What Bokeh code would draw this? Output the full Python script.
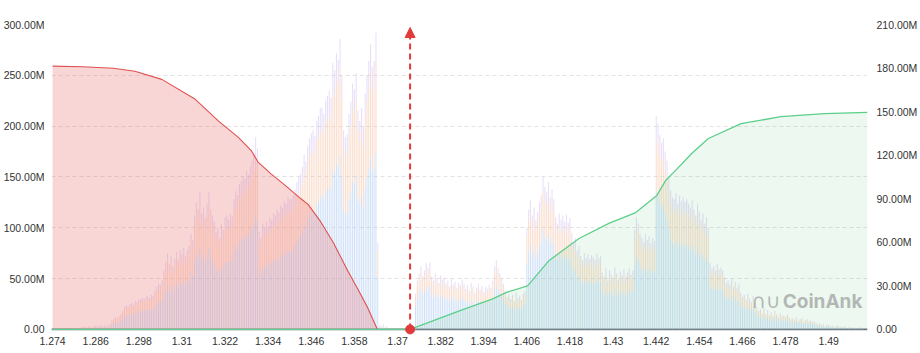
from bokeh.plotting import figure
from bokeh.models import (Range1d, LinearAxis, FixedTicker, CustomJSTickFormatter,
                          Span, Arrow, NormalHead, Label, ColumnDataSource)
from bokeh.embed import file_html
from bokeh.resources import INLINE

# ---------------- data ----------------
price_start = 1.274
price_step = 0.0005
current_price = 1.3735

x_tick_labels = ["1.274", "1.286", "1.298", "1.31", "1.322", "1.334", "1.346", "1.358",
                 "1.37", "1.382", "1.394", "1.406", "1.418", "1.43", "1.442", "1.454",
                 "1.466", "1.478", "1.49"]
left_ticks = [0, 50, 100, 150, 200, 250, 300]
right_ticks = [0, 30, 60, 90, 120, 150, 180, 210]

# liquidation intensity per price level (M), three stacked exchange groups
blue = [
    0.3, 0.2, 0.4, 0.6, 0.3, 0.4, 0.6, 0.3, 0.4, 0.6, 0.4, 0.6, 0.6, 0.4, 0.7, 0.7,
    1.2, 1.2, 1.8, 1.2, 1.8, 1.8, 1.2, 1.8, 2.4, 1.8, 1.8, 2.4, 1.8, 2.4, 1.8, 2.4, 3,
    5, 6, 7, 7, 8, 9,
    11, 13, 14, 13, 15, 16, 14,
    17, 16, 18, 17, 19, 18, 19, 20, 19, 20, 20,
    23, 25, 27, 26, 29,
    35, 39, 44, 38, 43, 37,
    42, 45, 41, 47, 44, 48, 43, 47, 49,
    56, 53,
    67, 75, 71, 80,
    68, 72, 66, 74, 80, 71, 67,
    64, 58, 60, 54, 62, 59,
    66, 67, 65, 68, 67,
    77, 82, 79, 86,
    88, 90, 89, 94, 91, 96, 100,
    104, 113, 107,
    58, 54, 62,
    60, 64, 61, 66, 65, 68, 67, 71, 69, 73, 72, 76, 74, 78, 77,
    77, 79, 83, 87, 90,
    92, 96, 103, 99, 108, 113, 116,
    118, 114, 123, 126, 131,
    131, 127, 135, 138, 141, 137,
    157, 153, 163, 159, 172,
    150,
    118, 113, 115,
    127, 134, 145, 142, 151,
    129, 123, 131, 120,
    139, 150, 158, 169, 155, 158, 175,
    51,
    2.4, 1.8, 3, 1.2, 1.8,
    0, 0, 0, 0, 0, 0, 0, 0, 0, 0, 0, 0, 0, 0, 0,
    23,
    31, 36, 40, 34, 38, 42,
    39, 43,
    34, 31, 36, 33, 30, 34, 32, 33,
    29, 31, 27, 33, 29, 31, 27, 30, 28, 32, 29,
    26, 29, 25, 30, 27, 23, 27, 29, 25, 28, 24, 27, 26, 29, 27,
    31, 40, 44, 39, 36, 33, 29,
    25, 21, 23, 20, 22, 18, 23, 20, 21, 19, 23, 25,
    65, 77, 83, 73, 78, 70, 75, 81,
    86, 98, 91, 88, 94, 85, 90, 83,
    72, 68, 74, 70, 73, 69, 73, 68, 71,
    62, 55, 59, 51, 53,
    47, 44, 49, 46, 48, 45, 47, 46, 44, 49, 46, 47,
    36, 34, 39, 31, 38, 35, 33, 40, 36, 32, 37, 34, 38, 33, 36, 39, 35, 38,
    64, 72, 68, 61,
    59, 56, 61, 57, 60, 55, 59, 57,
    137, 131, 124, 120, 122, 114, 108, 98,
    89, 85, 83, 87, 81, 86, 82, 85, 81, 83, 81,
    78, 83, 77, 73, 81, 75, 70, 74, 68, 72, 65,
    42, 39, 40, 38, 42, 38, 40, 38,
    33, 30, 31, 29, 33, 27, 31, 27, 29,
    23, 21, 22, 19, 23, 20, 18, 21, 17,
    14, 12, 13, 10, 14, 10, 12, 9, 11, 8, 12, 10, 8, 10, 8, 9, 8, 10,
    8, 6, 7, 6, 8, 5, 6, 7, 5, 6, 6, 5, 6, 5, 5,
    4, 3, 4, 2.6, 3, 2, 3, 2.6, 2, 2.6, 1.3, 2, 2.6, 1.3, 2, 1.3, 2, 0.6, 1.3, 1.3,
    0.6, 1.3, 0.6, 0.6, 1.3, 0.6, 0.6,
]

orange = [
    0.1, 0.1, 0.1, 0.3, 0.1, 0.1, 0.3, 0.1, 0.1, 0.3, 0.1, 0.3, 0.3, 0.1, 0.3, 0.3,
    0.6, 0.6, 0.9, 0.6, 0.9, 0.9, 0.6, 0.9, 1.2, 0.9, 0.9, 1.2, 0.9, 1.2, 0.9, 1.2, 1.5,
    3, 3, 4, 3, 4, 5,
    5, 7, 7, 7, 8, 7, 7,
    8, 8, 9, 9, 9, 9, 10, 10, 9, 10, 10,
    11, 13, 13, 13, 14,
    17, 20, 23, 19, 22, 19,
    21, 23, 20, 23, 22, 24, 22, 23, 25,
    28, 26,
    34, 37, 35, 41,
    34, 36, 33, 37, 41, 35, 34,
    31, 29, 30, 27, 31, 29,
    33, 34, 32, 34, 33,
    38, 41, 40, 43,
    43, 45, 44, 47, 46, 48, 50,
    52, 57, 53,
    29, 27, 31,
    30, 32, 31, 33, 32, 34, 34, 35, 35, 37, 36, 38, 37, 39, 38,
    38, 40, 41, 44, 45,
    46, 48, 52, 50, 54, 56, 58,
    59, 57, 62, 63, 65,
    65, 64, 68, 69, 71, 68,
    79, 76, 82, 80, 86,
    75,
    59, 57, 58,
    64, 67, 73, 71, 76,
    65, 62, 65, 60,
    70, 75, 80, 84, 77, 80, 88,
    26,
    1.2, 0.9, 1.5, 0.6, 0.9,
    0, 0, 0, 0, 0, 0, 0, 0, 0, 0, 0, 0, 0, 0, 0,
    9,
    12, 14, 16, 13, 14, 16,
    15, 16,
    13, 12, 14, 12, 11, 13, 12, 13,
    11, 12, 11, 12, 11, 12, 10, 12, 11, 12, 11,
    10, 11, 9, 12, 11, 9, 10, 11, 10, 11, 9, 11, 10, 11, 10,
    12, 16, 17, 15, 14, 12, 11,
    9, 8, 9, 7, 9, 7, 9, 8, 8, 7, 9, 9,
    25, 29, 31, 28, 30, 27, 29, 31,
    33, 37, 35, 34, 36, 32, 34, 32,
    27, 26, 29, 27, 28, 26, 29, 26, 27,
    24, 21, 22, 19, 21,
    18, 17, 19, 17, 19, 17, 18, 18, 17, 19, 17, 18,
    14, 13, 15, 12, 14, 14, 12, 15, 14, 12, 14, 13, 15, 13, 14, 15, 14, 14,
    24, 27, 26, 24,
    22, 21, 24, 22, 23, 21, 22, 22,
    52, 51, 48, 46, 47, 44, 41, 37,
    34, 32, 32, 34, 31, 33, 31, 32, 31, 32, 31,
    30, 32, 29, 28, 31, 29, 27, 28, 26, 27, 25,
    16, 15, 16, 14, 16, 15, 15, 14,
    13, 11, 12, 11, 12, 11, 12, 10, 11,
    9, 8, 9, 7, 9, 7, 7, 8, 6,
    6, 4, 5, 4, 5, 4, 5, 4, 4, 4, 4, 4, 3, 4, 4, 4, 3, 4,
    3, 3, 3, 2, 3, 2, 3, 3, 1.5, 2, 3, 2, 2, 1.5, 2,
    1.5, 1.3, 1.5, 1, 1.3, 0.7, 1.3, 1, 0.7, 1, 0.5, 0.7, 1, 0.5, 0.7, 0.5, 0.7, 0.3,
    0.5, 0.5, 0.3, 0.5, 0.3, 0.3, 0.5, 0.3, 0.3,
]

purple = [
    0.1, 0.1, 0.1, 0.1, 0.1, 0.1, 0.1, 0.1, 0.1, 0.1, 0.1, 0.1, 0.1, 0.1, 0.1, 0.1,
    0.2, 0.2, 0.3, 0.2, 0.3, 0.3, 0.2, 0.3, 0.4, 0.3, 0.3, 0.4, 0.3, 0.4, 0.3, 0.4, 0.5,
    1, 1, 1, 1, 1, 1,
    2, 2, 3, 2, 2, 3, 3,
    3, 3, 3, 3, 3, 3, 3, 3, 3, 4, 3,
    4, 4, 5, 5, 5,
    6, 7, 8, 7, 7, 6,
    7, 8, 7, 8, 8, 8, 7, 8, 8,
    10, 9,
    11, 13, 12, 14,
    12, 12, 11, 13, 14, 12, 11,
    11, 9, 10, 9, 11, 10,
    11, 11, 11, 12, 11,
    13, 13, 13, 14,
    15, 15, 15, 15, 15, 16, 16,
    18, 19, 18,
    9, 9, 11,
    10, 10, 10, 11, 11, 12, 11, 12, 11, 12, 12, 12, 13, 13, 13,
    13, 13, 14, 14, 15,
    15, 16, 17, 16, 18, 19, 19,
    19, 19, 20, 21, 22,
    22, 21, 22, 23, 23, 23,
    26, 26, 27, 26, 28,
    25,
    19, 19, 19,
    21, 23, 24, 23, 25,
    21, 20, 22, 20,
    23, 25, 26, 28, 26, 26, 29,
    8,
    0.4, 0.3, 0.5, 0.2, 0.3,
    0, 0, 0, 0, 0, 0, 0, 0, 0, 0, 0, 0, 0, 0, 0,
    3,
    5, 5, 6, 5, 6, 7,
    6, 7,
    5, 5, 5, 5, 5, 6, 5, 5,
    5, 5, 4, 5, 4, 4, 4, 4, 4, 5, 5,
    4, 4, 4, 4, 4, 4, 4, 5, 4, 4, 4, 4, 4, 4, 4,
    5, 6, 7, 6, 5, 5, 5,
    4, 3, 3, 3, 3, 3, 4, 3, 4, 3, 3, 4,
    10, 12, 13, 11, 12, 11, 12, 13,
    13, 15, 14, 13, 15, 13, 14, 13,
    11, 10, 11, 11, 11, 11, 11, 11, 11,
    9, 9, 9, 8, 8,
    7, 7, 7, 7, 7, 7, 8, 7, 7, 7, 7, 7,
    6, 5, 6, 5, 6, 5, 5, 6, 5, 5, 6, 6, 6, 5, 6, 6, 5, 6,
    10, 11, 10, 9,
    9, 9, 9, 9, 9, 9, 9, 8,
    21, 20, 19, 18, 19, 17, 17, 15,
    14, 13, 13, 13, 12, 13, 13, 13, 13, 13, 12,
    12, 12, 12, 11, 12, 12, 11, 12, 10, 11, 10,
    7, 6, 6, 6, 6, 6, 6, 6,
    5, 5, 5, 4, 5, 4, 4, 4, 5,
    4, 3, 3, 3, 3, 3, 2, 4, 3,
    2, 2, 2, 2, 2, 1, 2, 1, 2, 1, 2, 1, 1, 2, 1, 1, 1, 1,
    1, 1, 1, 1, 1, 1, 1, 1, 0.5, 1, 1, 1, 1, 0.5, 1,
    0.5, 0.7, 0.5, 0.4, 0.7, 0.3, 0.7, 0.4, 0.3, 0.4, 0.2, 0.3, 0.4, 0.2, 0.3, 0.2, 0.3, 0.1,
    0.2, 0.2, 0.1, 0.2, 0.1, 0.1, 0.2, 0.1, 0.1,
]

# cumulative long liquidations below price (left axis, M)
red_price = [1.2740, 1.2823, 1.2909, 1.2969, 1.3044, 1.3135, 1.3202, 1.3257, 1.3293,
             1.3312, 1.3348, 1.3390, 1.3431, 1.3451, 1.3486, 1.3522, 1.3561, 1.3589,
             1.3616, 1.3644]
red_cum = [259, 258.5, 257, 254, 246, 227, 205, 189, 176,
           164.5, 153, 141, 128.5, 123, 106, 85, 58, 40,
           22, 0]

# cumulative short liquidations above price (right axis, M)
green_price = [1.2740, 1.3735, 1.3874, 1.3965, 1.4003, 1.4062, 1.4122, 1.4205, 1.4288,
               1.4363, 1.4421, 1.4446, 1.4474, 1.4518, 1.4565, 1.4656, 1.4767, 1.4888,
               1.5008]
green_cum = [0, 0, 13, 21, 25.5, 30, 47.5, 62.6, 73,
             80.5, 92, 102.5, 109.5, 121, 131.5, 141.7, 146.5, 148.6,
             149.5]

# ---------------- figure ----------------
FONT = "Liberation Sans"
TXT = "#333333"

n = min(len(blue), len(orange), len(purple))
prices = [price_start + price_step * i for i in range(n)]
src = ColumnDataSource(dict(price=prices, blue=blue[:n], orange=orange[:n], purple=purple[:n]))

p = figure(width=920, height=353, output_backend="svg", toolbar_location=None,
           x_range=Range1d(1.2737, 1.5008), y_range=Range1d(-6, 300),
           min_border_left=50, min_border_right=52, min_border_top=24, min_border_bottom=18)
p.extra_y_ranges = {"right": Range1d(-4.2, 210)}
p.outline_line_color = None
p.background_fill_color = "white"
p.border_fill_color = "white"

base = Span(location=0, dimension="width", line_color="#6e7079", line_width=1.6, level="underlay")
p.add_layout(base)

p.vbar_stack(["blue", "orange", "purple"], x="price", width=0.0003, source=src,
             color=["#a9c8f0", "#f6c2a6", "#d6c4f4"], line_color=None, fill_alpha=0.55)

p.varea(x=red_price, y1=0, y2=red_cum, fill_color="#e85c5c", fill_alpha=0.25)
p.line(red_price, red_cum, line_color="#e05050", line_width=1.1)

p.varea(x=green_price, y1=0, y2=green_cum, fill_color="#40b870", fill_alpha=0.1,
        y_range_name="right")
p.line(green_price, green_cum, line_color="#5ccf8a", line_width=1.3, y_range_name="right")

# current price marker
RED = "#e23a3a"
p.add_layout(Arrow(end=NormalHead(size=10, fill_color=RED, line_color=RED),
                   x_start=current_price, y_start=0, x_end=current_price, y_end=297,
                   line_color=RED, line_width=2, line_dash="6 4"))
p.scatter([current_price], [0], size=9, color=RED)
p.add_layout(Label(x=current_price, y=311, text="Current Price：" + str(current_price),
                   text_align="center", text_baseline="middle", text_font=FONT,
                   text_font_size="10.5px", text_color=TXT))

# watermark
p.add_layout(Label(x=1.4685, y=27.5, text="∩∪", text_align="left", text_baseline="middle",
                   text_font="DejaVu Sans", text_font_size="20px", text_color="#8c8c8c",
                   text_alpha=0.6))
p.add_layout(Label(x=1.4772, y=27.5, text="CoinAnk", text_align="left", text_baseline="middle",
                   text_font="Inter", text_font_size="19px", text_color="#8c8c8c",
                   text_alpha=0.6, text_font_style="bold"))

# axes
fmt_m = CustomJSTickFormatter(code='return tick == 0 ? "0.00" : tick.toFixed(2) + "M";')
ya = p.yaxis[0]
ya.ticker = FixedTicker(ticks=left_ticks)
ya.formatter = fmt_m
ra = LinearAxis(y_range_name="right", ticker=FixedTicker(ticks=right_ticks), formatter=fmt_m)
p.add_layout(ra, "right")

xa = p.xaxis[0]
xa.ticker = FixedTicker(ticks=[float(s) for s in x_tick_labels])
xa.formatter = CustomJSTickFormatter(code="return String(parseFloat(tick.toFixed(3)));")

for ax in (xa, ya, ra):
    ax.axis_line_color = None
    ax.major_tick_line_color = None
    ax.minor_tick_line_color = None
    ax.major_tick_out = 0
    ax.minor_tick_out = 0
    ax.major_tick_in = 0
    ax.minor_tick_in = 0
    ax.major_label_text_font = FONT
    ax.major_label_text_font_size = "10.5px"
    ax.major_label_text_color = TXT
ya.major_label_standoff = 7
ra.major_label_standoff = 9
xa.major_label_standoff = 1

p.xgrid.grid_line_color = None
p.ygrid.ticker = FixedTicker(ticks=left_ticks)
p.ygrid.grid_line_color = "#e3e3e3"
p.ygrid.grid_line_dash = "4 3"

open("out.html", "w").write(file_html(p, INLINE))
